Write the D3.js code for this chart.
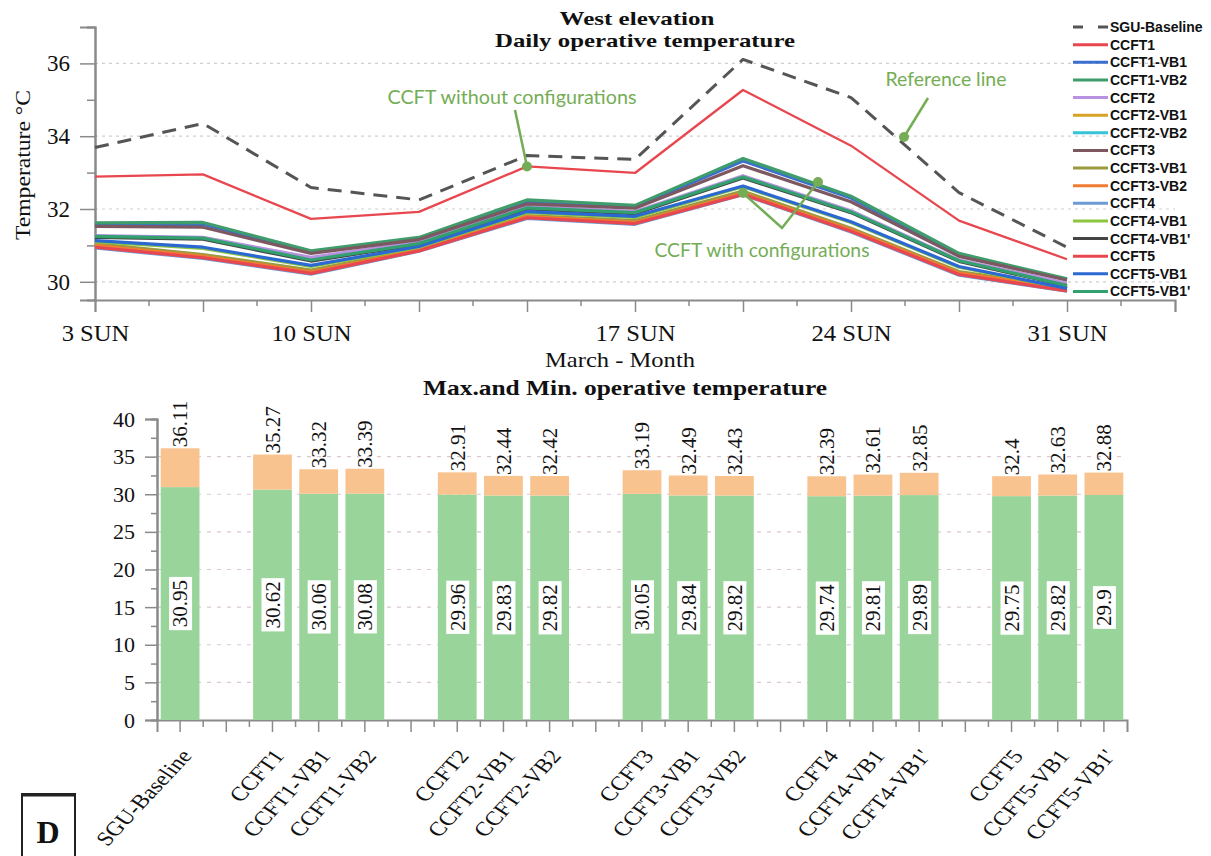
<!DOCTYPE html>
<html><head><meta charset="utf-8">
<script src="https://cdn.jsdelivr.net/npm/d3@7"></script>
<style>
body{margin:0;background:#fff;}
svg{display:block;}
</style></head><body>
<svg id="chart" width="1211" height="856"></svg>
<script>
// ---------- Daily operative temperature (line chart) ----------
// Axis positions along March; the last position carries no data.
const dayTicks = ["3 SUN", "", "10 SUN", "", "", "17 SUN", "", "24 SUN", "", "31 SUN", ""];
const tempTicks = [30, 32, 34, 36];

const seriesNames = ["SGU-Baseline", "CCFT1", "CCFT1-VB1", "CCFT1-VB2", "CCFT2", "CCFT2-VB1", "CCFT2-VB2",
  "CCFT3", "CCFT3-VB1", "CCFT3-VB2", "CCFT4", "CCFT4-VB1", "CCFT4-VB1'", "CCFT5", "CCFT5-VB1", "CCFT5-VB1'"];
const seriesColors = ["#555555", "#e8474f", "#3a6fd0", "#3f9c6b", "#b892e0", "#d6a324", "#35c3d8",
  "#7d5861", "#9c9a3e", "#f07c32", "#6c9ad2", "#8cc63f", "#454545", "#e8474f", "#2b68d2", "#32a06f"];

const sguBaseline = [33.69, 34.35, 32.59, 32.25, 33.47, 33.36, 36.11, 35.06, 32.45, 30.95];
const ccft1       = [32.89, 32.95, 31.73, 31.92, 33.17, 32.99, 35.27, 33.74, 31.68, 30.62];
const ccft1Vb1    = [31.57, 31.58, 30.82, 31.19, 32.20, 32.06, 33.32, 32.30, 30.74, 30.06];
const ccft1Vb2    = [31.62, 31.63, 30.85, 31.22, 32.25, 32.10, 33.39, 32.35, 30.78, 30.08];
const ccft2       = [31.27, 31.22, 30.67, 31.10, 32.07, 31.93, 32.91, 31.95, 30.60, 29.96];
const ccft2Vb1    = [31.02, 30.72, 30.29, 30.88, 31.80, 31.65, 32.44, 31.45, 30.26, 29.83];
const ccft2Vb2    = [30.98, 30.68, 30.25, 30.86, 31.77, 31.62, 32.42, 31.41, 30.22, 29.82];
const ccft3       = [31.52, 31.50, 30.78, 31.16, 32.14, 32.02, 33.19, 32.20, 30.70, 30.05];
const ccft3Vb1    = [31.05, 30.75, 30.32, 30.90, 31.82, 31.68, 32.49, 31.47, 30.28, 29.84];
const ccft3Vb2    = [31.00, 30.70, 30.27, 30.87, 31.79, 31.63, 32.43, 31.43, 30.24, 29.82];
const ccft4       = [30.93, 30.64, 30.21, 30.84, 31.74, 31.58, 32.39, 31.37, 30.18, 29.74];
const ccft4Vb1    = [31.10, 30.92, 30.42, 30.95, 31.90, 31.77, 32.61, 31.63, 30.40, 29.81];
const ccft4Vb1p   = [31.22, 31.17, 30.57, 31.03, 32.00, 31.87, 32.85, 31.90, 30.56, 29.89];
const ccft5       = [30.95, 30.66, 30.23, 30.85, 31.76, 31.60, 32.40, 31.39, 30.20, 29.75];
const ccft5Vb1    = [31.13, 30.95, 30.45, 30.97, 31.93, 31.80, 32.63, 31.65, 30.42, 29.82];
const ccft5Vb1p   = [31.25, 31.20, 30.60, 31.05, 32.03, 31.90, 32.88, 31.92, 30.58, 29.90];

const seriesValues = [sguBaseline, ccft1, ccft1Vb1, ccft1Vb2, ccft2, ccft2Vb1, ccft2Vb2,
  ccft3, ccft3Vb1, ccft3Vb2, ccft4, ccft4Vb1, ccft4Vb1p, ccft5, ccft5Vb1, ccft5Vb1p];

// ---------- Max. and Min. operative temperature (bar chart) ----------
const barSlots = ["SGU-Baseline", "", "CCFT1", "CCFT1-VB1", "CCFT1-VB2", "", "CCFT2", "CCFT2-VB1", "CCFT2-VB2", "",
  "CCFT3", "CCFT3-VB1", "CCFT3-VB2", "", "CCFT4", "CCFT4-VB1", "CCFT4-VB1'", "", "CCFT5", "CCFT5-VB1", "CCFT5-VB1'"];
const barNames = ["SGU-Baseline", "CCFT1", "CCFT1-VB1", "CCFT1-VB2", "CCFT2", "CCFT2-VB1", "CCFT2-VB2",
  "CCFT3", "CCFT3-VB1", "CCFT3-VB2", "CCFT4", "CCFT4-VB1", "CCFT4-VB1'", "CCFT5", "CCFT5-VB1", "CCFT5-VB1'"];
const maxTemps = [36.11, 35.27, 33.32, 33.39, 32.91, 32.44, 32.42, 33.19, 32.49, 32.43, 32.39, 32.61, 32.85, 32.4, 32.63, 32.88];
const minTemps = [30.95, 30.62, 30.06, 30.08, 29.96, 29.83, 29.82, 30.05, 29.84, 29.82, 29.74, 29.81, 29.89, 29.75, 29.82, 29.9];
const barTicks = [0, 5, 10, 15, 20, 25, 30, 35, 40];

const SERIF = "'Liberation Serif', 'Times New Roman', serif";
const SANS = "'Liberation Sans', Arial, sans-serif";
const NOTE = "Lato, 'Open Sans', sans-serif";
const noteColor = "#74ad55";
const axisGray = "#8a8a8a";

const svg = d3.select("#chart");

// text helper: centred text stretched to a given width
function label(parent, x, y, txt, size, width, bold, rot) {
  const t = parent.append("text")
    .attr("transform", `translate(${x},${y})` + (rot ? ` rotate(${rot})` : ""))
    .attr("text-anchor", "middle").attr("font-family", SERIF).attr("font-size", size)
    .attr("font-weight", bold ? "bold" : null).attr("fill", "#111").text(txt);
  if (width) t.attr("textLength", width).attr("lengthAdjust", "spacingAndGlyphs");
  return t;
}

// ======================= line chart =======================
const xL = d3.scalePoint().domain(d3.range(dayTicks.length)).range([95, 1175]);
const yL = d3.scaleLinear().domain([29.5, 37]).range([300, 27]);

const lineG = svg.append("g");

// dotted grid
lineG.append("g").selectAll("line").data(tempTicks).join("line")
  .attr("x1", 95).attr("x2", 1175)
  .attr("y1", d => yL(d)).attr("y2", d => yL(d))
  .attr("stroke", "#cfcfcf").attr("stroke-width", 1.2).attr("stroke-dasharray", "3,4");

// y axis
const yAxisL = lineG.append("g").attr("transform", "translate(95,0)")
  .call(d3.axisLeft(yL).tickValues(tempTicks).tickSize(15).tickPadding(10).tickFormat(d3.format("d")));
lineG.append("g").attr("transform", "translate(95,0)")
  .call(d3.axisLeft(yL).tickValues([31, 33, 35, 37]).tickSize(8).tickFormat(""));
// x axis
const xAxisL = lineG.append("g").attr("transform", "translate(0,300)")
  .call(d3.axisBottom(xL).tickSize(12).tickPadding(13).tickFormat(i => dayTicks[i]));
const midDays = d3.range(dayTicks.length - 1).map(i => (xL(i) + xL(i + 1)) / 2);
lineG.append("g").selectAll("line").data(midDays).join("line")
  .attr("x1", d => d).attr("x2", d => d).attr("y1", 300).attr("y2", 306)
  .attr("stroke", axisGray).attr("stroke-width", 1.5);

lineG.selectAll(".domain").attr("stroke", axisGray).attr("stroke-width", 2);
lineG.selectAll(".tick line").attr("stroke", axisGray).attr("stroke-width", 1.5);
yAxisL.selectAll("text").attr("font-family", SERIF).attr("font-size", 23).attr("fill", "#111");
xAxisL.selectAll("text").attr("font-family", SERIF).attr("font-size", 23).attr("fill", "#111")
  .attr("textLength", function () { return this.getComputedTextLength() * 1.07; })
  .attr("lengthAdjust", "spacingAndGlyphs");

// series lines
const line = d3.line().x((d, i) => xL(i)).y(d => yL(d));
seriesValues.forEach((vals, k) => {
  lineG.append("path").datum(vals)
    .attr("d", line).attr("fill", "none")
    .attr("stroke", seriesColors[k])
    .attr("stroke-width", k === 0 ? 3 : (k === 1 ? 2.3 : 3.2))
    .attr("stroke-linejoin", "round")
    .attr("stroke-dasharray", k === 0 ? "14,9" : null);
});

// titles
label(lineG, 637, 25, "West elevation", 19, 155, true);
label(lineG, 645, 47, "Daily operative temperature", 19, 300, true);
label(lineG, 30, 165, "Temperature °C", 22, 150, false, -90);
label(lineG, 620, 367, "March - Month", 21, 150, false);

// legend
const lg = lineG.append("g");
seriesNames.forEach((name, k) => {
  const yy = 27 + k * 17.63;
  lg.append("line").attr("x1", 1073).attr("x2", 1108).attr("y1", yy).attr("y2", yy)
    .attr("stroke", seriesColors[k]).attr("stroke-width", 3)
    .attr("stroke-dasharray", k === 0 ? "10,15" : null);
  lg.append("text").attr("x", 1110).attr("y", yy).attr("dy", "0.36em")
    .attr("font-family", SANS).attr("font-weight", "bold").attr("font-size", 14)
    .attr("fill", "#111").text(name);
});

// annotations
const notes = lineG.append("g");
function noteText(x, y, t, w) {
  notes.append("text").attr("x", x).attr("y", y).attr("text-anchor", "middle")
    .attr("font-family", NOTE).attr("font-size", 19).attr("fill", noteColor)
    .attr("textLength", w).attr("lengthAdjust", "spacingAndGlyphs").text(t);
}
function notePath(pts, dots) {
  notes.append("path").attr("d", d3.line()(pts)).attr("fill", "none")
    .attr("stroke", noteColor).attr("stroke-width", 2.5);
  dots.forEach(p => notes.append("circle").attr("cx", p[0]).attr("cy", p[1]).attr("r", 5).attr("fill", noteColor));
}
const p4 = [xL(4), yL(ccft1[4])];
notePath([[515, 110], p4], [p4]);
noteText(512, 104, "CCFT without configurations", 249);
notePath([[928, 98], [904, 137]], [[904, 137]]);
noteText(946, 86, "Reference line", 121);
notePath([[743, 193], [782, 228], [818, 182]], [[743, 193], [818, 182]]);
noteText(762, 257, "CCFT with configurations", 215);

// ======================= bar chart =======================
const xB = d3.scaleBand().domain(d3.range(barSlots.length)).range([157, 1127])
  .paddingInner(0.16).paddingOuter(0.08);
const yB = d3.scaleLinear().domain([0, 40]).range([720, 419]);
const slotOf = name => barSlots.indexOf(name);

const barG = svg.append("g");

barG.append("g").selectAll("line").data(barTicks.filter(d => d > 0 && d < 40)).join("line")
  .attr("x1", 157).attr("x2", 1127).attr("y1", d => yB(d)).attr("y2", d => yB(d))
  .attr("stroke", "#d9c8cf").attr("stroke-width", 1.2).attr("stroke-dasharray", "4,6");

const yAxisB = barG.append("g").attr("transform", "translate(157,0)")
  .call(d3.axisLeft(yB).tickValues(barTicks).tickSize(12).tickPadding(10));
barG.append("g").attr("transform", "translate(157,0)")
  .call(d3.axisLeft(yB).tickValues(d3.range(2.5, 40, 5)).tickSize(6).tickFormat(""));
yAxisB.selectAll("text").attr("font-family", SERIF).attr("font-size", 22).attr("fill", "#111");

const xAxisB = barG.append("g").attr("transform", "translate(0,720)")
  .call(d3.axisBottom(xB).tickSize(12).tickFormat(i => barSlots[i]));
const slotEdges = d3.range(1, barSlots.length).map(i => xB(i) - xB.step() * xB.paddingInner() / 2);
barG.append("g").selectAll("line").data(slotEdges).join("line")
  .attr("x1", d => d).attr("x2", d => d).attr("y1", 720).attr("y2", 727)
  .attr("stroke", axisGray).attr("stroke-width", 1.5);
// rotated category names, stretched sideways like the rest of the lettering
xAxisB.selectAll("text")
  .attr("font-family", SERIF).attr("font-size", 20).attr("fill", "#111")
  .attr("text-anchor", "end").attr("y", 0).attr("dy", "0.35em")
  .attr("transform", "translate(6,32) scale(1.2,1) rotate(-52)");
barG.selectAll(".domain").attr("stroke", axisGray).attr("stroke-width", 2);
barG.selectAll(".tick line").attr("stroke", axisGray).attr("stroke-width", 1.5);

// stacked min / max bars
const bars = barG.append("g");
barNames.forEach((name, k) => {
  const x0 = xB(slotOf(name)), w = xB.bandwidth(), cx = x0 + w / 2;
  bars.append("rect").attr("x", x0).attr("width", w)
    .attr("y", yB(minTemps[k])).attr("height", yB(0) - yB(minTemps[k])).attr("fill", "#99d59a");
  bars.append("rect").attr("x", x0).attr("width", w)
    .attr("y", yB(maxTemps[k])).attr("height", yB(minTemps[k]) - yB(maxTemps[k])).attr("fill", "#f9c38f");
  // max value above the bar
  bars.append("text").attr("transform", `translate(${cx},${yB(maxTemps[k]) - 1}) rotate(-90)`)
    .attr("dy", "0.35em").attr("font-family", SERIF).attr("font-size", 21).attr("fill", "#111")
    .text(maxTemps[k]);
  // min value boxed at the middle of the green part
  const g = bars.append("g").attr("transform", `translate(${cx},${yB(minTemps[k] / 2)}) rotate(-90)`);
  const bg = g.append("rect").attr("fill", "#fff");
  const t = g.append("text").attr("text-anchor", "middle").attr("dy", "0.35em")
    .attr("font-family", SERIF).attr("font-size", 21).attr("fill", "#111").text(minTemps[k]);
  const len = t.node().getComputedTextLength();
  bg.attr("x", -len / 2 - 3).attr("width", len + 6).attr("y", -11).attr("height", 23);
});

label(barG, 625, 395, "Max.and Min. operative temperature", 21, 404, true);

// panel letter
const tag = svg.append("g");
tag.append("rect").attr("x", 22).attr("y", 794).attr("width", 53).attr("height", 70)
  .attr("fill", "#fff").attr("stroke", "#222").attr("stroke-width", 2);
tag.append("line").attr("x1", 22).attr("x2", 75).attr("y1", 795).attr("y2", 795)
  .attr("stroke", "#222").attr("stroke-width", 3);
label(tag, 48, 843, "D", 32, null, true);
</script>
</body></html>
